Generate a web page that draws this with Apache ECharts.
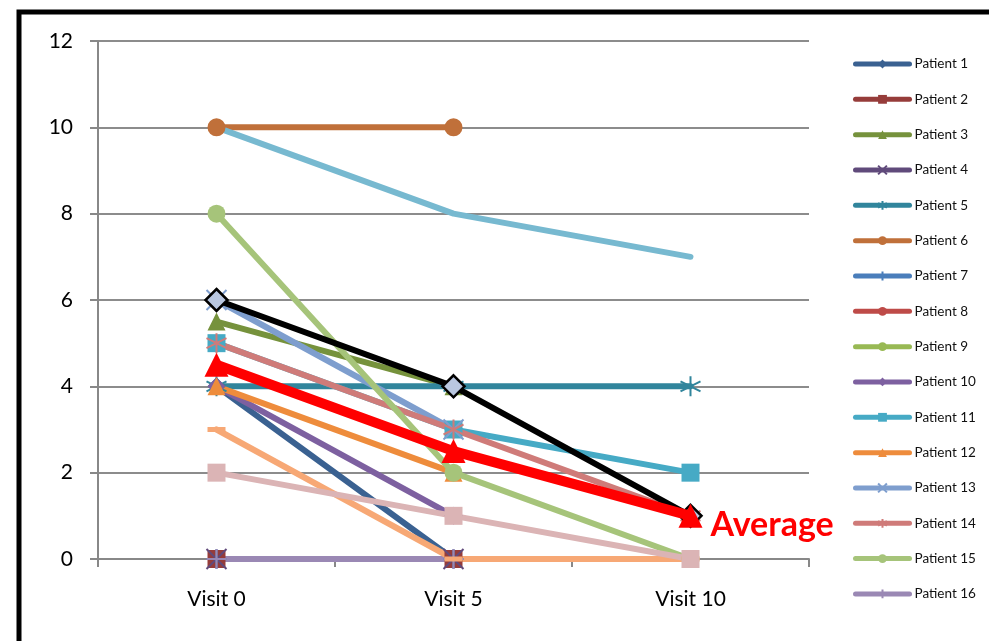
<!DOCTYPE html>
<html>
<head>
<meta charset="utf-8">
<script src="https://cdn.jsdelivr.net/npm/echarts@6/dist/echarts.min.js"></script>
<style>
  html, body { margin: 0; padding: 0; background: #fff; }
  #grafico { width: 989px; height: 641px; }
</style>
</head>
<body>
<div id="grafico"></div>
<script>
// Datos
const visitas = ['Visit 0', 'Visit 5', 'Visit 10'];
const ticksY = [0, 2, 4, 6, 8, 10, 12];

const pacientes = ['Patient 1', 'Patient 2', 'Patient 3', 'Patient 4', 'Patient 5', 'Patient 6',
    'Patient 7', 'Patient 8', 'Patient 9', 'Patient 10', 'Patient 11', 'Patient 12',
    'Patient 13', 'Patient 14', 'Patient 15', 'Patient 16'];

const valoresPacientes = [
    [4, 0, null],      // Patient 1
    [0, 0, null],      // Patient 2
    [5.5, 4, null],    // Patient 3
    [0, 0, null],      // Patient 4
    [4, 4, 4],         // Patient 5
    [10, 10, null],    // Patient 6
    [0, 0, null],      // Patient 7
    [0, 0, null],      // Patient 8
    [0, 0, null],      // Patient 9
    [4, 1, null],      // Patient 10
    [5, 3, 2],         // Patient 11
    [4, 2, null],      // Patient 12
    [6, 3, null],      // Patient 13
    [5, 3, 1],         // Patient 14
    [8, 2, 0],         // Patient 15
    [0, 0, null]       // Patient 16
];

// series extra (fuera de la leyenda)
const extra17 = [10, 8, 7];
const extra18 = [3, 0, 0];
const extra19 = [2, 1, 0];
const mediana = [6, 4, 1];
const promedio = [4.5, 2.5, 1];

const colores = ['#3A6191', '#963C3A', '#76923C', '#604A7B', '#31859C', '#C0703A',
    '#4A7EBB', '#BE4B48', '#98B954', '#7D60A0', '#46AAC5', '#EE8C3C',
    '#7E9ECE', '#CF7B79', '#A6C47A', '#9A88B4'];

const X_PATH = 'path://M0,0L10,10M10,0L0,10';
const STAR_PATH = 'path://M5,0L5,10M1,2.5L9,7.5M9,2.5L1,7.5';
const PLUS_PATH = 'path://M5,0L5,10M0,5L10,5';

const marcadores = ['diamond', 'rect', 'triangle', X_PATH, STAR_PATH, 'circle', PLUS_PATH, 'none', 'none',
    'diamond', 'rect', 'triangle', X_PATH, STAR_PATH, 'circle', PLUS_PATH];

function esTrazo(m) {
    return m === X_PATH || m === STAR_PATH || m === PLUS_PATH;
}

function serieLinea(nombre, datos, color, simbolo, tam) {
    const trazo = esTrazo(simbolo);
    return {
        name: nombre,
        type: 'line',
        data: datos,
        symbol: simbolo,
        symbolSize: tam,
        showAllSymbol: true,
        connectNulls: false,
        lineStyle: { color: color, width: 6, cap: 'round' },
        itemStyle: {
            color: trazo ? 'rgba(0,0,0,0)' : color,
            borderColor: color,
            borderWidth: trazo ? 2 : 0
        },
        emphasis: { disabled: true }
    };
}

function crearGrafico() {
    const series = pacientes.map((p, i) => {
        const m = marcadores[i];
        let tam = 18;
        if (esTrazo(m)) tam = 20;
        return serieLinea(p, valoresPacientes[i], colores[i], m, tam);
    });

    series.push(serieLinea('S17', extra17, '#77B9D0', 'none', 0));
    series.push(serieLinea('S18', extra18, '#F7A875', 'rect', [18, 5]));
    series.push(serieLinea('S19', extra19, '#DBB4B5', 'rect', 18));

    series.push({
        name: 'Median',
        type: 'line',
        data: mediana,
        symbol: 'diamond',
        symbolSize: 22,
        lineStyle: { color: '#000', width: 6 },
        itemStyle: { color: '#B9C7E0', borderColor: '#000', borderWidth: 2.5 },
        emphasis: { disabled: true },
        z: 5
    });

    series.push({
        name: 'Average',
        type: 'line',
        data: promedio,
        symbol: 'triangle',
        symbolSize: 24,
        lineStyle: { color: '#FF0000', width: 10 },
        itemStyle: { color: '#FF0000' },
        emphasis: { disabled: true },
        endLabel: {
            show: true,
            formatter: 'Average',
            color: '#FF0000',
            fontSize: 34,
            fontWeight: 'bold',
            fontFamily: 'Lato',
            offset: [12, 9]
        },
        z: 6
    });

    return {
        animation: false,
        backgroundColor: '#fff',
        graphic: [{
            type: 'rect',
            shape: { x: 19, y: 12, width: 1100, height: 800 },
            style: { fill: 'none', stroke: '#000', lineWidth: 5 },
            silent: true
        }],
        grid: { left: 98, top: 41, width: 711, height: 518 },
        legend: {
            data: pacientes,
            orient: 'vertical',
            left: 848,
            top: 52,
            itemWidth: 54,
            itemHeight: 11,
            itemGap: 21.33,
            lineStyle: { width: 5, cap: 'round' },
            textStyle: { fontFamily: 'Lato', fontSize: 13.5, color: '#111' }
        },
        xAxis: {
            type: 'category',
            data: visitas,
            boundaryGap: true,
            axisLine: { lineStyle: { color: '#888', width: 2 } },
            axisTick: { show: true, length: 8, lineStyle: { color: '#888', width: 2 } },
            axisLabel: { color: '#000', fontSize: 21, fontFamily: 'Lato', margin: 30 },
            splitLine: { show: false }
        },
        yAxis: {
            type: 'value',
            min: ticksY[0],
            max: ticksY[ticksY.length - 1],
            interval: 2,
            axisLine: { show: true, lineStyle: { color: '#888', width: 2 } },
            axisTick: { show: true, length: 8, lineStyle: { color: '#888', width: 2 } },
            axisLabel: { color: '#000', fontSize: 21, fontFamily: 'Lato', margin: 25 },
            splitLine: { lineStyle: { color: '#8c8c8c', width: 2 } }
        },
        series: series
    };
}

const chart = echarts.init(document.getElementById('grafico'), null, { renderer: 'canvas' });
chart.setOption(crearGrafico());
</script>
</body>
</html>
